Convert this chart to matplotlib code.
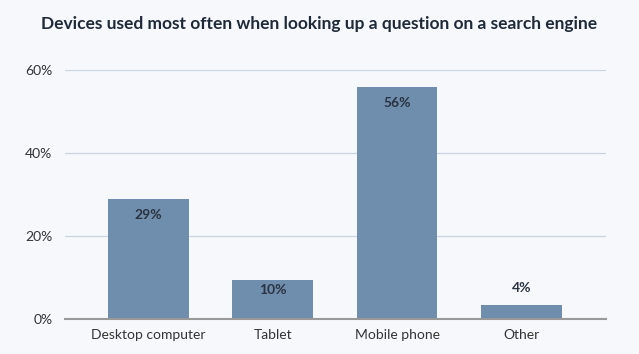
import matplotlib
matplotlib.use("Agg")
import matplotlib.pyplot as plt

categories = ["Desktop computer", "Tablet", "Mobile phone", "Other"]
values = [28.9, 9.5, 55.8, 3.3]
value_labels = ["29%", "10%", "56%", "4%"]
yticks = [0, 20, 40, 60]
ytick_labels = ["0%", "20%", "40%", "60%"]

bg = "#f6f8fc"
bar_color = "#6f8dac"
fig = plt.figure(figsize=(6.39, 3.54), dpi=100, facecolor=bg)
ax = fig.add_axes([65/639, 1 - 319/354, (606-65)/639, (319-70)/354])
ax.set_facecolor(bg)
x = list(range(len(categories)))
bars = ax.bar(x, values, width=0.65, color=bar_color, zorder=3)
ax.set_xlim(-0.67, 3.68)
ax.set_ylim(0, 60)
ax.set_yticks(yticks)
ax.set_yticklabels(ytick_labels, fontsize=10, color="#333333", family="Lato")
ax.set_xticks(x)
ax.set_xticklabels(categories, fontsize=10, color="#333333", family="Lato")
ax.tick_params(axis="both", length=0)
ax.tick_params(axis="y", pad=9)
ax.tick_params(axis="x", pad=7)
ax.grid(axis="y", color="#c9d4e2", linewidth=0.9, zorder=0)
for s in ["top", "right", "left"]:
    ax.spines[s].set_visible(False)
ax.spines["bottom"].set_color("#999999")
ax.spines["bottom"].set_linewidth(1.5)
ax.spines["bottom"].set_zorder(4)

for xi, v, lab in zip(x, values, value_labels):
    if v > 8:
        off = -16 if v > 15 else -10
    else:
        off = 17
    ax.annotate(lab, (xi, v), xytext=(0, off), textcoords="offset points" if False else "offset pixels",
                ha="center", va="center", fontsize=10, fontweight="bold", color="#2a3340", family="Lato", zorder=5)

fig.text(0.5, 1 - 24/354, "Devices used most often when looking up a question on a search engine",
         ha="center", va="center", fontsize=12.5, fontweight="bold", color="#1e2a38", family="Lato")

fig.savefig("out.png", dpi=100, facecolor=bg)
